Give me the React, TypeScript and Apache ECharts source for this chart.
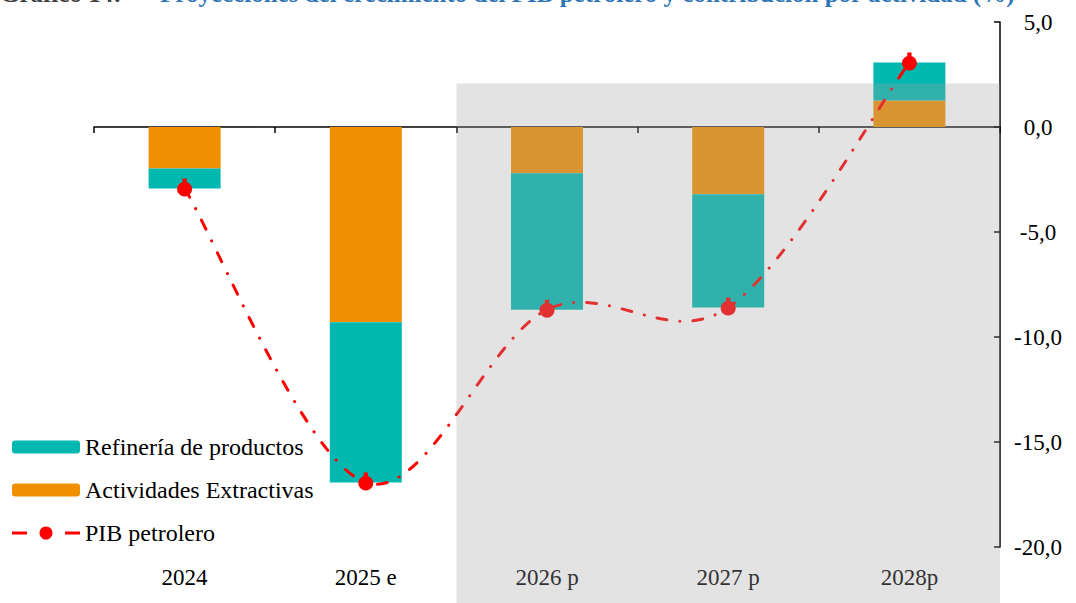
import React, { useEffect, useRef } from "react";
import * as echarts from "echarts";

const categories = ["2024", "2025 e", "2026 p", "2027 p", "2028p"];
const actividades = [-1.98, -9.3, -2.2, -3.2, 1.26];
const refineria = [-0.95, -7.63, -6.5, -5.4, 1.81];
const pib = [-2.93, -16.93, -8.7, -8.6, 3.07];
const shadeTop = 2.07;
const firstShaded = 2;

const FONT = "Liberation Serif";
const fmt = (v: number) => v.toFixed(1).replace(".", ",");

const MARKER = "path://M5,0h4v4h-4z M7,3a7,7 0 1,1 -0.01,0z";
const LEGEND_LINE_ICON =
  "path://M0,5h15v3h-15z M53,5h15v3h-15z M34,0a6.5,6.5 0 1,1 -0.01,0z";

export default function App() {
  const ref = useRef<HTMLDivElement>(null);
  useEffect(() => {
    if (!ref.current) return;
    const chart = echarts.init(ref.current, undefined, { renderer: "svg" });

    const renderSmooth = (params: any, api: any) => {
      if (params.dataIndex !== 0) return null;
      const pts = pib.map((v, i) => api.coord([i, v]) as number[]);
      const n = pts.length;
      let d = `M${pts[0][0]},${pts[0][1]}`;
      for (let i = 0; i < n - 1; i++) {
        const p0 = pts[Math.max(i - 1, 0)];
        const p1 = pts[i];
        const p2 = pts[i + 1];
        const p3 = pts[Math.min(i + 2, n - 1)];
        const c1x = p1[0] + (p2[0] - p0[0]) / 6;
        const c1y = p1[1] + (p2[1] - p0[1]) / 6;
        const c2x = p2[0] - (p3[0] - p1[0]) / 6;
        const c2y = p2[1] - (p3[1] - p1[1]) / 6;
        d += ` C${c1x},${c1y} ${c2x},${c2y} ${p2[0]},${p2[1]}`;
      }
      return {
        type: "path",
        shape: { pathData: d },
        style: {
          fill: null,
          stroke: "#ff0000",
          lineWidth: 3,
          lineDash: [10, 13, 0.1, 13],
          lineCap: "round",
        },
      };
    };

    const option: any = {
      animation: false,
      backgroundColor: "#ffffff",
      grid: { left: 94, right: 76, top: 22, bottom: 56, containLabel: false },
      legend: {
        orient: "vertical",
        left: 12,
        top: 435,
        padding: 0,
        itemWidth: 68,
        itemHeight: 13,
        itemGap: 19,
        data: [
          { name: "Refinería de productos" },
          { name: "Actividades Extractivas" },
          { name: "PIB petrolero", icon: LEGEND_LINE_ICON },
        ],
        textStyle: { fontFamily: FONT, fontSize: 24, color: "#000" },
      },
      xAxis: [
        {
          type: "category",
          data: categories,
          axisLine: { onZero: true, lineStyle: { color: "#000", width: 1.5 } },
          axisTick: { show: true, inside: false, length: 6, lineStyle: { color: "#000", width: 1.5 } },
          axisLabel: { show: false },
        },
        {
          type: "category",
          data: categories,
          position: "bottom",
          axisLine: { show: false, onZero: false },
          axisTick: { show: false },
          axisLabel: { margin: 19, fontFamily: FONT, fontSize: 23, color: "#000" },
        },
      ],
      yAxis: {
        type: "value",
        position: "right",
        min: -20,
        max: 5,
        interval: 5,
        splitLine: { show: false },
        axisLine: { show: true, lineStyle: { color: "#000", width: 1.5 } },
        axisTick: { show: true, inside: true, length: 6, lineStyle: { color: "#000", width: 1.5 } },
        axisLabel: {
          formatter: fmt,
          align: "center",
          margin: 38,
          fontFamily: FONT,
          fontSize: 23,
          color: "#000",
        },
      },
      series: [
        {
          name: "Actividades Extractivas",
          type: "bar",
          stack: "total",
          barWidth: 72,
          data: actividades,
          itemStyle: { color: "#f09000" },
        },
        {
          name: "Refinería de productos",
          type: "bar",
          stack: "total",
          barWidth: 72,
          data: refineria,
          itemStyle: { color: "#00b8b0" },
        },
        {
          name: "PIB curve",
          type: "custom",
          renderItem: renderSmooth,
          data: pib.map((v, i) => [i, v]),
          encode: { x: 0, y: 1 },
          z: 4,
          silent: true,
        },
        {
          name: "PIB petrolero",
          type: "line",
          data: pib,
          symbol: MARKER,
          symbolSize: [15, 18],
          symbolOffset: [0, -1],
          itemStyle: { color: "#ff0000" },
          lineStyle: { opacity: 0 },
          z: 5,
        },
      ],
    };
    chart.setOption(option);

    const x0 = chart.convertToPixel({ xAxisIndex: 0 }, firstShaded - 1) as number;
    const x1 = chart.convertToPixel({ xAxisIndex: 0 }, firstShaded) as number;
    const xl = chart.convertToPixel({ xAxisIndex: 0 }, categories.length - 1) as number;
    const band = x1 - x0;
    const left = (x0 + x1) / 2;
    const right = xl + band / 2;
    const top = chart.convertToPixel({ yAxisIndex: 0 }, shadeTop) as number;

    chart.setOption({
      graphic: [
        {
          type: "rect",
          z: 100,
          silent: true,
          shape: { x: left, y: top, width: right - left, height: 603 - top },
          style: { fill: "rgba(163,163,163,0.3)" },
        },
        {
          type: "text",
          x: 0,
          y: 6,
          style: {
            text: "Gráfico 14:",
            fontFamily: FONT,
            fontSize: 25,
            fontWeight: "bold",
            fill: "#404040",
            verticalAlign: "bottom",
          },
        },
        {
          type: "text",
          x: 160,
          y: 6,
          style: {
            text: "Proyecciones del crecimiento del PIB petrolero y contribución por actividad (%)",
            fontFamily: FONT,
            fontSize: 25,
            fontWeight: "bold",
            fill: "#2e75b6",
            verticalAlign: "bottom",
          },
        },
      ],
    });

    return () => chart.dispose();
  }, []);
  return (
    <div
      ref={ref}
      style={{ position: "fixed", left: 0, top: 0, width: 1076, height: 603 }}
    />
  );
}
